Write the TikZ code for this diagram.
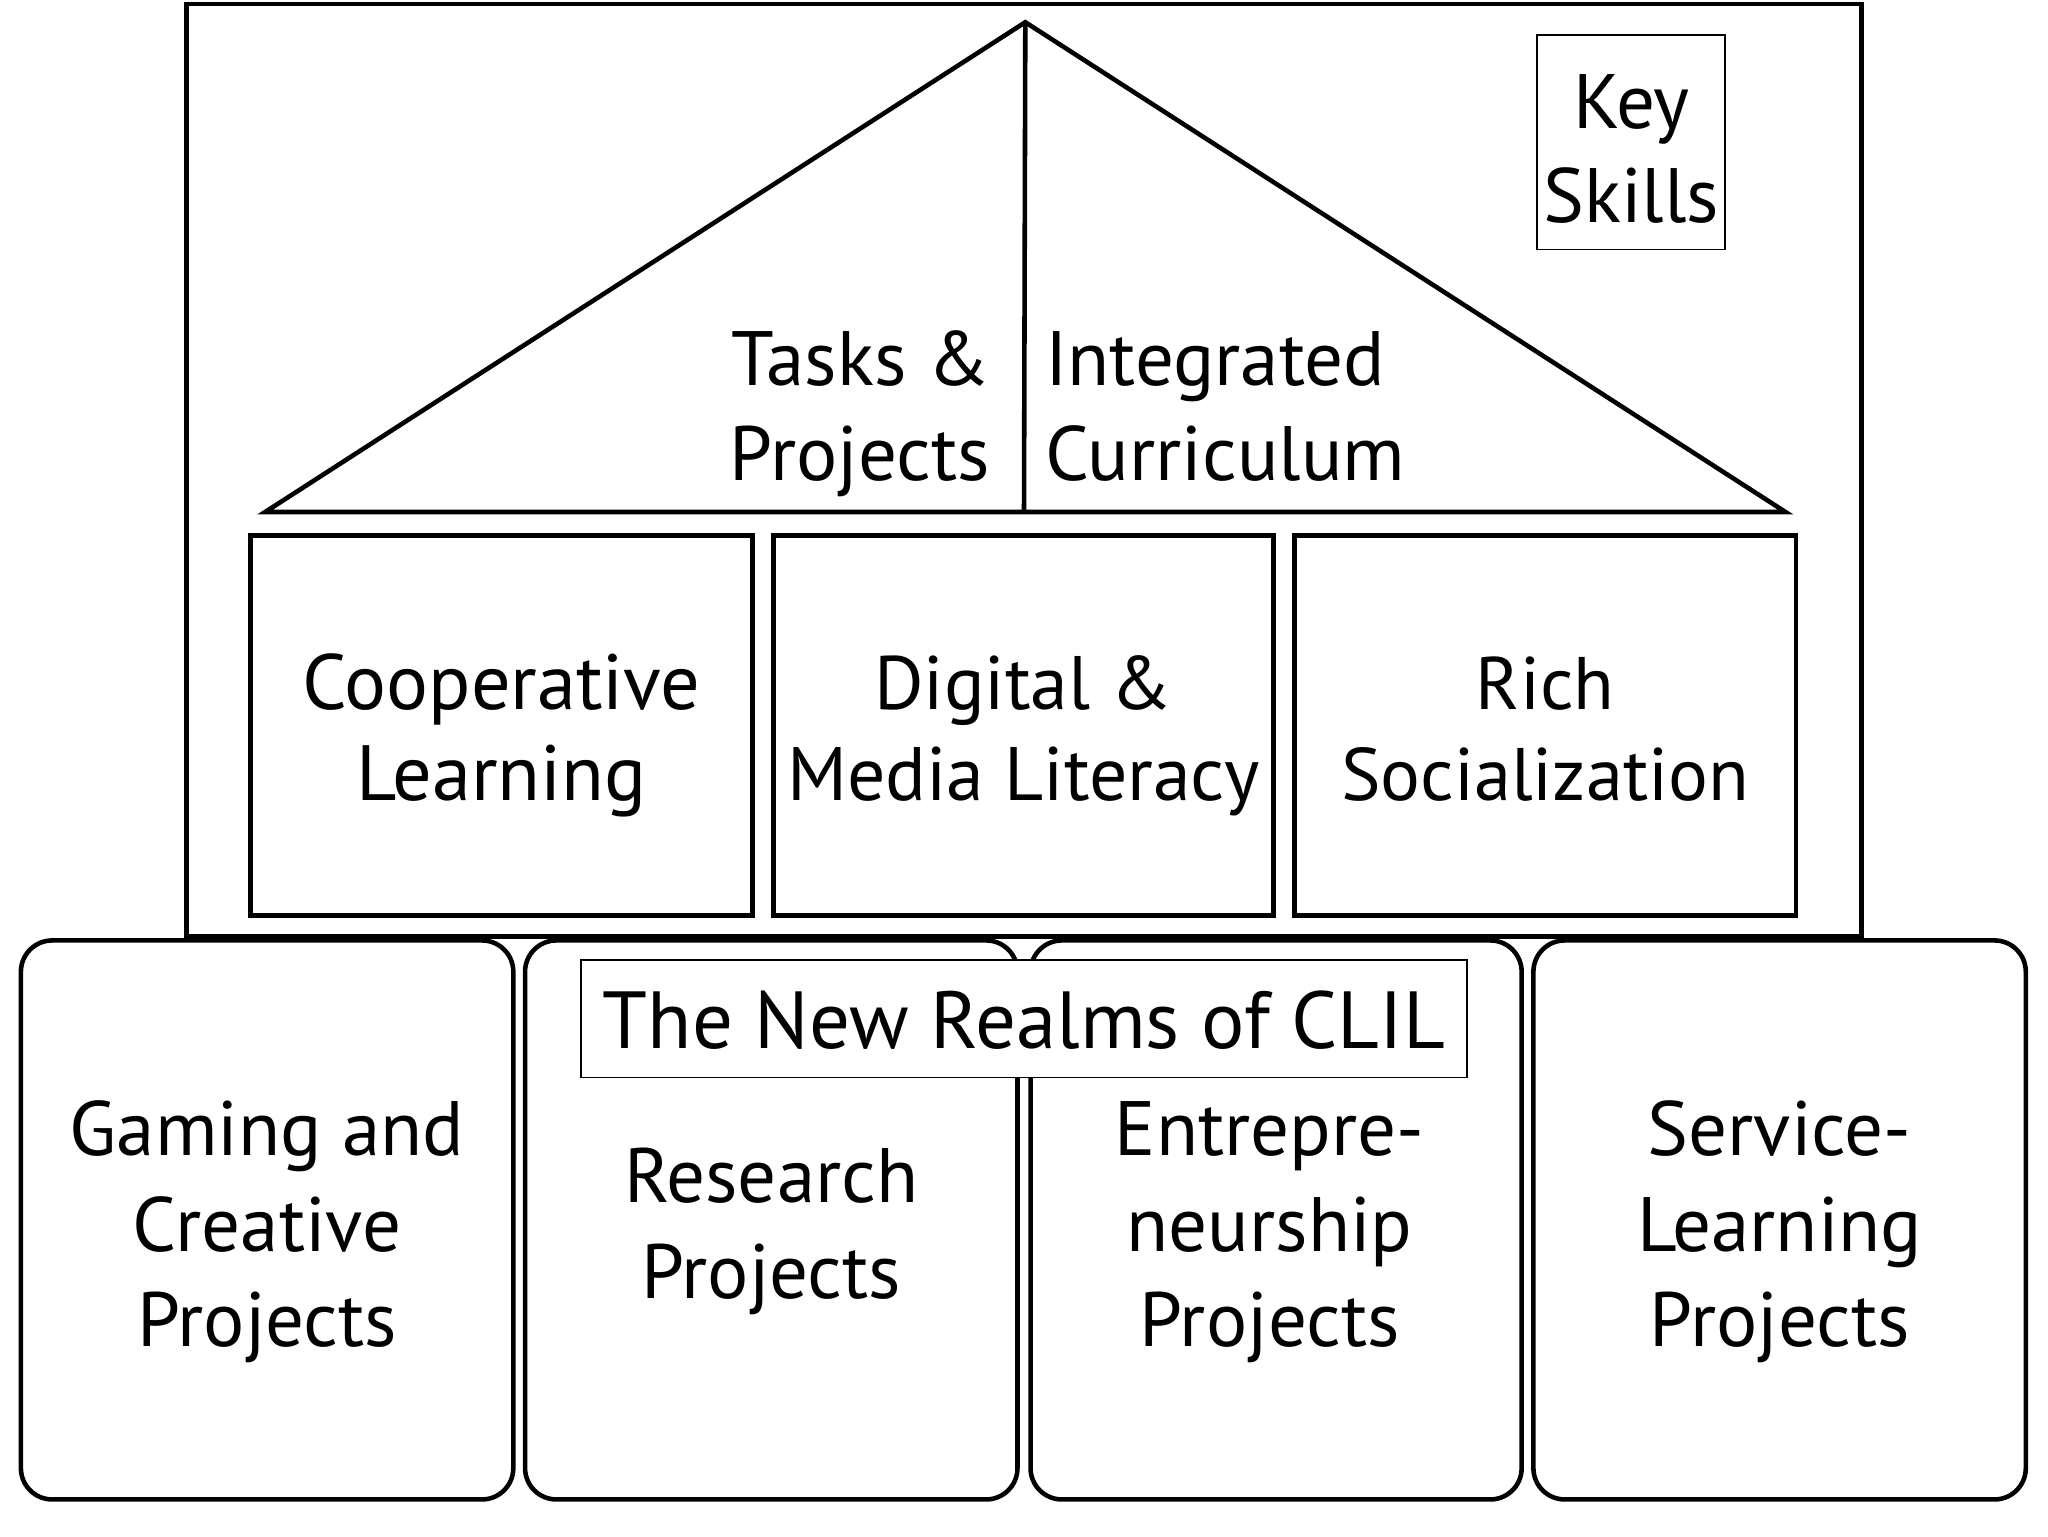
\documentclass[tikz,border=0pt]{standalone}
\usepackage{fontspec}
\setmainfont{PT Sans}
\begin{document}
\begin{tikzpicture}[x=1pt,y=-1pt,
  heavy/.style={draw, line width=3.5pt},
  pillar/.style={heavy, rectangle, inner sep=0pt},
  realm/.style={heavy, rectangle, rounded corners=24pt, inner sep=0pt},
  tag/.style={draw, line width=1.4pt, fill=white, inner sep=0pt},
  txt/.style={font=\fontsize{59}{73}\selectfont, align=center, anchor=base, inner sep=0pt},
]
\useasboundingbox (0,0) rectangle (1568,1176);
% outer frame
\node[pillar, minimum width=1282pt, minimum height=714pt] (frame) at (784,360) {};
% roof
\coordinate (apex) at (785,17);
\coordinate (eaveL) at (203,392);
\coordinate (eaveR) at (1367,392);
\coordinate (ridge) at (784,392);
\draw[heavy, line join=miter] (eaveL) -- (apex) -- (eaveR) -- cycle;
\draw[heavy] (apex) -- (ridge);
% pillars
\node[pillar, minimum width=384pt, minimum height=291pt] (coop) at (384,555.5) {};
\node[pillar, minimum width=383pt, minimum height=291pt] (digital) at (783.5,555.5) {};
\node[pillar, minimum width=384pt, minimum height=291pt] (rich) at (1183,555.5) {};
% realms
\node[realm, minimum width=377pt, minimum height=428pt] (gaming) at (204.5,934) {};
\node[realm, minimum width=377pt, minimum height=428pt] (research) at (590.5,934) {};
\node[realm, minimum width=376pt, minimum height=428pt] (entre) at (977,934) {};
\node[realm, minimum width=377pt, minimum height=428pt] (service) at (1362.5,934) {};
% tags
\node[tag, minimum width=678pt, minimum height=90pt] (clil) at (784,780) {};
\node[tag, minimum width=144pt, minimum height=164pt] (key) at (1249,109) {};
% texts (base anchor = baseline of the last line)
\node[txt, font=\fontsize{59}{72}\selectfont] (keyT) at (1249,170) {Key\\Skills};
\node[txt, anchor=base east, align=right] (tasksT) at (758,368) {Tasks \&\\Projects};
\node[txt, anchor=base west, align=left] (integT) at (800,368) {Integrated\\Curriculum};
\node[txt, font=\fontsize{60}{70}\selectfont] (coopT) at (384,613) {Cooperative\\Learning};
\node[txt, font=\fontsize{58}{70}\selectfont] (digitalT) at (783.5,613) {Digital \&\\Media Literacy};
\node[txt, font=\fontsize{57}{70}\selectfont] (richT) at (1183,613) {Rich\\Socialization};
\node[txt, font=\fontsize{62}{73}\selectfont] (clilT) at (784,803) {The New Realms of CLIL};
\node[txt] (gamingT) at (204.5,1031) {Gaming and\\Creative\\Projects};
\node[txt] (researchT) at (590.5,994) {Research\\Projects};
\node[txt] (entreT) at (972,1031) {Entrepre-\\neurship\\Projects};
\node[txt] (serviceT) at (1362.5,1031) {Service-\\Learning\\Projects};
\end{tikzpicture}
\end{document}
